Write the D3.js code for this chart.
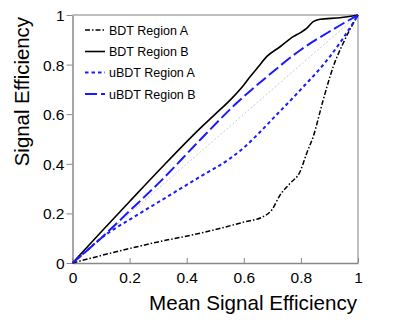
<!DOCTYPE html>
<html><head><meta charset="utf-8">
<script src="https://cdn.jsdelivr.net/npm/d3@7"></script>
<style>body{margin:0;background:#fff}svg{display:block}text{font-family:"Liberation Sans",Arial,sans-serif}</style>
</head><body>
<script>
const ticks = [0, 0.2, 0.4, 0.6, 0.8, 1];
const tickLabels = ["0", "0.2", "0.4", "0.6", "0.8", "1"];
const seriesNames = ["BDT Region A", "BDT Region B", "uBDT Region A", "uBDT Region B"];
const bdtA = [[0,0],[0.1,0.03],[0.3,0.085],[0.447,0.12],[0.6,0.165],[0.668,0.187],[0.698,0.214],[0.727,0.274],[0.762,0.321],[0.797,0.368],[0.82,0.442],[0.843,0.509],[0.878,0.657],[0.913,0.791],[0.948,0.886],[1,1]];
const bdtB = [[0,0],[0.1,0.125],[0.2,0.248],[0.3,0.37],[0.447,0.543],[0.5,0.6],[0.563,0.67],[0.6,0.718],[0.622,0.751],[0.65,0.79],[0.68,0.832],[0.727,0.872],[0.773,0.913],[0.8,0.93],[0.82,0.946],[0.843,0.973],[0.867,0.983],[0.937,0.989],[1,1]];
const ubdtA = [[0,0],[0.05,0.05],[0.1,0.1],[0.13,0.125],[0.2,0.175],[0.3,0.245],[0.4,0.315],[0.45,0.35],[0.55,0.42],[0.6,0.465],[0.65,0.52],[0.7,0.58],[0.8,0.7],[0.9,0.83],[0.95,0.91],[1,1]];
const ubdtB = [[0,0],[0.1,0.1],[0.2,0.21],[0.3,0.32],[0.45,0.5],[0.575,0.645],[0.68,0.75],[0.8,0.86],[0.91,0.94],[1,1]];
const diag = [[0,0],[1,1]];

const W = 407, H = 322;
const svg = d3.select("body").append("svg").attr("width", W).attr("height", H);
const x = d3.scaleLinear().domain([0,1]).range([72.5, 358]);
const y = d3.scaleLinear().domain([0,1]).range([263, 15]);

// frame
svg.append("line").attr("x1",x(0)).attr("x2",x(1)).attr("y1",y(1)).attr("y2",y(1)).attr("stroke","#aaa").attr("stroke-width",1.5);
svg.append("line").attr("x1",x(1)).attr("x2",x(1)).attr("y1",y(0)).attr("y2",y(1)).attr("stroke","#aaa").attr("stroke-width",1.5);

const xAxis = d3.axisBottom(x).tickValues(ticks).tickFormat((d,i)=>tickLabels[i]).tickSizeInner(-5).tickSizeOuter(0).tickPadding(9);
const gx = svg.append("g").attr("transform",`translate(0,${y(0)})`).call(xAxis);
const yAxis = d3.axisLeft(y).tickValues(ticks).tickFormat((d,i)=>tickLabels[i]).tickSizeInner(6).tickSizeOuter(0).tickPadding(2);
const gy = svg.append("g").attr("transform",`translate(${x(0)},0)`).call(yAxis);
[gx,gy].forEach(g=>{
  g.select(".domain").attr("stroke","#888").attr("stroke-width",1.5);
  g.selectAll(".tick line").attr("stroke","#888");
  g.selectAll(".tick text").attr("font-size",15.5).attr("fill","#000").style("font-family","Liberation Sans, Arial, sans-serif");
});
gx.selectAll(".tick text").attr("dy","0.71em");
gy.selectAll(".tick text").attr("dy","0.36em");

svg.append("text").attr("x",357).attr("y",310).attr("text-anchor","end").attr("font-size",20.6).text("Mean Signal Efficiency");
svg.append("text").attr("transform","translate(29,17) rotate(-90)").attr("text-anchor","end").attr("font-size",20.4).text("Signal Efficiency");

const line = d3.line().x(d=>x(d[0])).y(d=>y(d[1])).curve(d3.curveMonotoneX);
const styles = [
  {data: bdtA, color:"#000", width:1.5, dash:"5,2,1.5,2"},
  {data: bdtB, color:"#000", width:1.6, dash:null},
  {data: ubdtA, color:"#1a1aff", width:2, dash:"3.5,3"},
  {data: ubdtB, color:"#1a1aff", width:2, dash:"12,4"}
];
svg.append("path").attr("d",line(diag)).attr("fill","none").attr("stroke","#ccc").attr("stroke-width",1).attr("stroke-dasharray","2,2");
styles.forEach(s=>{
  svg.append("path").attr("d",line(s.data)).attr("fill","none").attr("stroke",s.color).attr("stroke-width",s.width).attr("stroke-dasharray",s.dash);
});

// legend
const legY = [30, 51.5, 72.5, 94];
seriesNames.forEach((n,i)=>{
  const s = styles[i];
  svg.append("line").attr("x1",85).attr("x2",105).attr("y1",legY[i]).attr("y2",legY[i]).attr("stroke",s.color).attr("stroke-width",s.width).attr("stroke-dasharray",s.dash);
  svg.append("text").attr("x",109).attr("y",legY[i]).attr("dy","0.36em").attr("font-size",12.5).text(n);
});
</script>
</body></html>
